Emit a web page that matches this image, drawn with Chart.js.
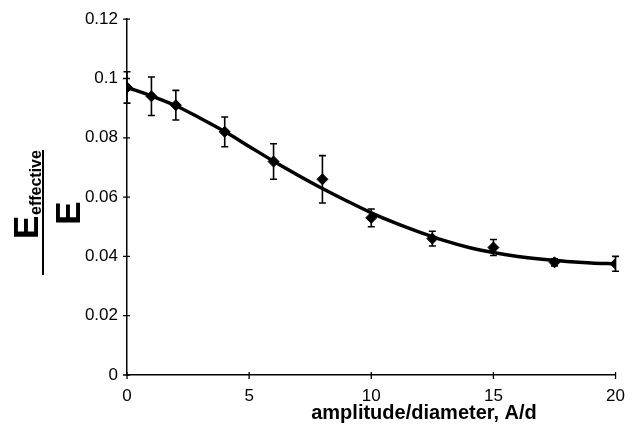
<!DOCTYPE html>
<html>
<head>
<meta charset="utf-8">
<script src="https://cdn.jsdelivr.net/npm/chart.js@4/dist/chart.umd.min.js"></script>
<style>
  html, body { margin: 0; padding: 0; background: #fff; }
  #wrap { width: 636px; height: 438px; }
</style>
</head>
<body>
<div id="wrap"><canvas id="chart" width="636" height="438"></canvas></div>
<script>
// measured points (amplitude/diameter vs normalised modulus)
const ampRatio = [0, 1, 2, 4, 6, 8, 10, 12.5, 15, 17.5, 20]
const modRatio = [0.097, 0.094, 0.091, 0.082, 0.072, 0.066, 0.053, 0.046, 0.043, 0.038, 0.0375]
const modError = [0.0053, 0.0065, 0.005, 0.005, 0.006, 0.008, 0.003, 0.0025, 0.0027, 0.0012, 0.0025]

// fitted curve
const fitX = [0, 1, 2, 3, 4, 5, 6, 7, 8, 9, 10, 11, 12, 13, 14, 15, 16, 17, 18, 19, 20]
const fitY = [0.097, 0.0941, 0.0908, 0.0866, 0.0821, 0.0771, 0.0721, 0.0674, 0.0629, 0.0587, 0.0547,
              0.0512, 0.0481, 0.0453, 0.043, 0.0413, 0.04, 0.039, 0.0383, 0.0378, 0.0375]

const xTicks = [0, 5, 10, 15, 20]
const yTicks = [0, 0.02, 0.04, 0.06, 0.08, 0.1, 0.12]

const font = '"Liberation Sans", Arial, Helvetica, sans-serif'

const extras = {
    id: 'extras',
    afterDatasetsDraw(chart) {
        const ctx = chart.ctx
        const xs = chart.scales.x
        const ys = chart.scales.y
        ctx.save()
        ctx.strokeStyle = '#000'
        ctx.lineWidth = 1.6
        // error bars
        ampRatio.forEach((a, i) => {
            const px = xs.getPixelForValue(a)
            const top = ys.getPixelForValue(modRatio[i] + modError[i])
            const bot = ys.getPixelForValue(modRatio[i] - modError[i])
            ctx.beginPath()
            ctx.moveTo(px, top); ctx.lineTo(px, bot)
            ctx.moveTo(px - 3.5, top); ctx.lineTo(px + 3.5, top)
            ctx.moveTo(px - 3.5, bot); ctx.lineTo(px + 3.5, bot)
            ctx.stroke()
        })
        // crossing tick marks
        ctx.lineWidth = 1.3
        const axY = ys.getPixelForValue(0)
        const axX = xs.getPixelForValue(0)
        ctx.beginPath()
        yTicks.forEach(v => {
            const py = ys.getPixelForValue(v)
            ctx.moveTo(axX - 4, py); ctx.lineTo(axX + 3, py)
        })
        xTicks.forEach(v => {
            const px = xs.getPixelForValue(v)
            ctx.moveTo(px, axY - 3); ctx.lineTo(px, axY + 4)
        })
        ctx.stroke()
        ctx.restore()
    },
    afterDraw(chart) {
        const ctx = chart.ctx
        ctx.save()
        ctx.fillStyle = '#000'
        // x title
        ctx.font = 'bold 20px ' + font
        ctx.textAlign = 'center'
        ctx.textBaseline = 'alphabetic'
        ctx.fillText('amplitude/diameter, A/d', 424, 419)
        // y title: E_effective / E, rotated
        ctx.translate(43, 213)
        ctx.rotate(-Math.PI / 2)
        ctx.textAlign = 'left'
        ctx.font = 'bold 35px ' + font
        ctx.fillText('E', -26, -5)
        ctx.font = 'bold 16px ' + font
        ctx.fillText('effective', -2, -2)
        ctx.font = 'bold 35px ' + font
        ctx.textAlign = 'center'
        ctx.fillText('E', 0, 37)
        ctx.fillRect(-62, -1, 125, 2)
        ctx.restore()
    }
}

new Chart(document.getElementById('chart'), {
    type: 'scatter',
    data: {
        datasets: [
            {
                type: 'line',
                data: fitX.map((x, i) => ({ x: x, y: fitY[i] })),
                borderColor: '#000',
                borderWidth: 3.5,
                pointRadius: 0,
                cubicInterpolationMode: 'monotone',
                fill: false,
                order: 2
            },
            {
                data: ampRatio.map((x, i) => ({ x: x, y: modRatio[i] })),
                pointStyle: 'rectRot',
                pointRadius: 5.5,
                backgroundColor: '#000',
                borderColor: '#000',
                borderWidth: 1,
                order: 1
            }
        ]
    },
    options: {
        responsive: false,
        animation: false,
        layout: { padding: { left: 0, right: 20, top: 17, bottom: 0 } },
        plugins: {
            legend: { display: false },
            tooltip: { enabled: false }
        },
        scales: {
            x: {
                type: 'linear',
                min: 0,
                max: 20,
                afterFit(s) { s.height = 63 },
                afterBuildTicks(s) { s.ticks = xTicks.map(v => ({ value: v })) },
                grid: { display: false, drawTicks: false },
                border: { display: true, color: '#000', width: 1.5 },
                ticks: {
                    color: '#000',
                    padding: 11,
                    font: { family: font, size: 17 }
                }
            },
            y: {
                min: 0,
                max: 0.12,
                afterFit(s) { s.width = 127 },
                afterBuildTicks(s) { s.ticks = yTicks.map(v => ({ value: v })) },
                grid: { display: false, drawTicks: false },
                border: { display: true, color: '#000', width: 1.5 },
                ticks: {
                    color: '#000',
                    padding: 9,
                    font: { family: font, size: 17 },
                    callback: v => String(Math.round(v * 100) / 100)
                }
            }
        }
    },
    plugins: [extras]
})
</script>
</body>
</html>
